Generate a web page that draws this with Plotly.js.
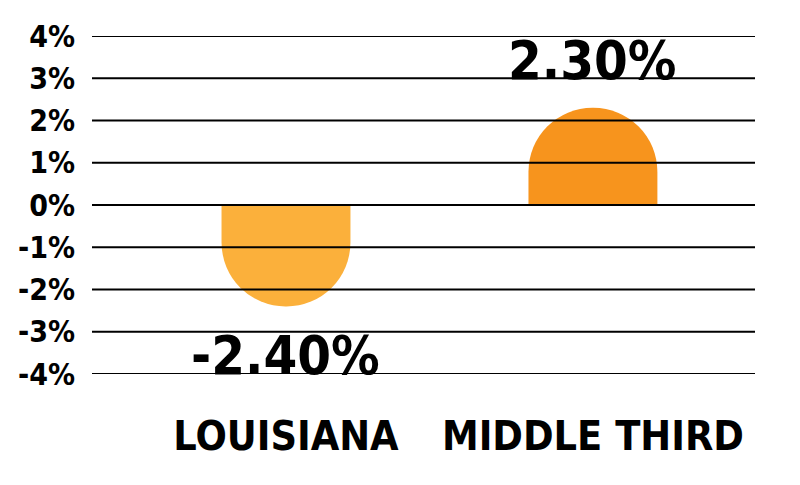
<!DOCTYPE html>
<html>
<head>
<meta charset="utf-8">
<script src="https://cdn.plot.ly/plotly-3.0.1.min.js"></script>
<style>
  html, body { margin: 0; padding: 0; background: #ffffff; }
  #chart { width: 800px; height: 485px; }
  #chart text { font-stretch: condensed; }
</style>
</head>
<body>
<div id="chart"></div>
<script>
// Percent change by region
const categories = ['LOUISIANA', 'MIDDLE THIRD'];
const values = [-2.4, 2.3];
const valueLabels = ['-2.40%', '2.30%'];
const barColors = ['#FBB03B', '#F7941D'];
const tickValues = [-4, -3, -2, -1, 0, 1, 2, 3, 4];
const tickLabels = ['-4%', '-3%', '-2%', '-1%', '0%', '1%', '2%', '3%', '4%'];

const heavyFont = '"DejaVu Sans Condensed", "DejaVu Sans", sans-serif';

const trace = {
  type: 'bar',
  x: categories,
  y: values,
  width: 0.42,
  marker: { color: barColors, cornerradius: '50%', line: { width: 0 } },
  hoverinfo: 'skip'
};

// Value labels just beyond the rounded end of each bar
const annotations = categories.map((c, i) => ({
  x: c,
  y: values[i],
  xref: 'x',
  yref: 'y',
  text: '<b>' + valueLabels[i] + '</b>',
  showarrow: false,
  xanchor: 'center',
  yanchor: values[i] >= 0 ? 'bottom' : 'top',
  yshift: values[i] >= 0 ? 14 : -16,
  font: { family: heavyFont, size: 54, color: '#000000' }
}));

// Horizontal rules drawn on top of the bars
const shapes = tickValues.map(v => ({
  type: 'line',
  xref: 'paper',
  yref: 'y',
  x0: 0,
  x1: 1,
  y0: v,
  y1: v,
  layer: 'above',
  line: { color: '#000000', width: 2 }
}));

const layout = {
  width: 800,
  height: 485,
  margin: { l: 92, r: 45, t: 36, b: 111 },
  paper_bgcolor: '#ffffff',
  plot_bgcolor: '#ffffff',
  showlegend: false,
  xaxis: {
    type: 'category',
    range: [-0.632, 1.528],
    showgrid: false,
    zeroline: false,
    showline: false,
    ticks: '',
    tickangle: 0,
    ticklabelstandoff: 34,
    tickfont: { family: heavyFont, size: 41, color: '#000000', weight: 'bold' }
  },
  yaxis: {
    range: [-4, 4],
    tickvals: tickValues,
    ticktext: tickLabels,
    showgrid: false,
    zeroline: false,
    showline: false,
    ticks: '',
    ticklabelstandoff: 16,
    tickfont: { family: heavyFont, size: 30, color: '#000000', weight: 'bold' }
  },
  annotations: annotations,
  shapes: shapes
};

Plotly.newPlot('chart', [trace], layout, { displayModeBar: false, staticPlot: true });
</script>
</body>
</html>
